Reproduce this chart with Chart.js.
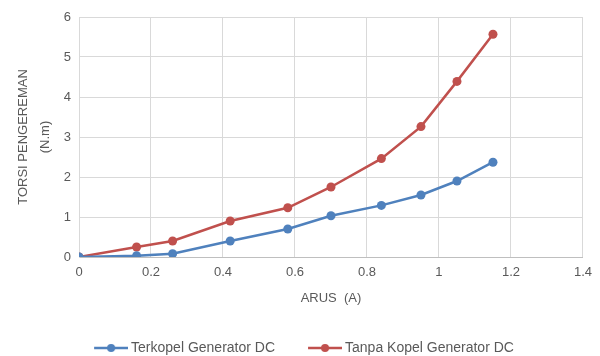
<!DOCTYPE html>
<html>
<head>
<meta charset="utf-8">
<script src="https://cdn.jsdelivr.net/npm/chart.js@4.4.1/dist/chart.umd.min.js"></script>
<style>
  html, body { margin: 0; padding: 0; background: #fff; }
  #wrap { width: 600px; height: 356px; }
</style>
</head>
<body>
<div id="wrap"><canvas id="c" width="600" height="356"></canvas></div>
<script>
// Arus (A) on the x axis, torsi pengereman (N.m) on the y axis
const arus = [0, 0.16, 0.26, 0.42, 0.58, 0.70, 0.84, 0.95, 1.05, 1.15];
const terkopel = [0, 0.03, 0.08, 0.40, 0.70, 1.03, 1.29, 1.55, 1.90, 2.37];
const tanpaKopel = [0, 0.25, 0.40, 0.90, 1.23, 1.75, 2.46, 3.26, 4.39, 5.57];
const seriesNames = ['Terkopel Generator DC', 'Tanpa Kopel Generator DC'];
const xTicks = [0, 0.2, 0.4, 0.6, 0.8, 1, 1.2, 1.4];
const yTicks = [0, 1, 2, 3, 4, 5, 6];
const xTitle = 'ARUS  (A)';
const yTitle = ['TORSI PENGEREMAN', '(N.m)'];

const BLUE = '#4F81BD';
const RED = '#C0504D';
const TEXT = '#595959';
const GRID = '#d9d9d9';
const FONT = "'Liberation Sans', Arial, sans-serif";

// legend marker: a short line with a dot, offset by a transparent lead-in
function makeMarker(color) {
  const c = document.createElement('canvas');
  c.width = 61; c.height = 10;
  const g = c.getContext('2d');
  g.strokeStyle = color;
  g.lineWidth = 2.5;
  g.beginPath();
  g.moveTo(27, 5); g.lineTo(61, 5);
  g.stroke();
  g.fillStyle = color;
  g.beginPath();
  g.arc(44, 5, 4, 0, Math.PI * 2);
  g.fill();
  return c;
}
const markers = [makeMarker(BLUE), makeMarker(RED)];

function toPoints(xs, ys) { return xs.map((x, i) => ({ x: x, y: ys[i] })); }

const ctx = document.getElementById('c').getContext('2d');
new Chart(ctx, {
  type: 'line',
  data: {
    datasets: [
      {
        label: seriesNames[0],
        data: toPoints(arus, terkopel),
        borderColor: BLUE, backgroundColor: BLUE,
        borderWidth: 2.5, pointRadius: 4.5, pointHoverRadius: 4.5,
        pointBorderWidth: 0, tension: 0
      },
      {
        label: seriesNames[1],
        data: toPoints(arus, tanpaKopel),
        borderColor: RED, backgroundColor: RED,
        borderWidth: 2.5, pointRadius: 4.5, pointHoverRadius: 4.5,
        pointBorderWidth: 0, tension: 0
      }
    ]
  },
  options: {
    responsive: false,
    animation: false,
    devicePixelRatio: 1,
    layout: { padding: { left: 0, right: 15, top: 17, bottom: -9 } },
    plugins: {
      tooltip: { enabled: false },
      legend: {
        position: 'bottom',
        labels: {
          color: TEXT,
          font: { family: FONT, size: 14 },
          usePointStyle: true,
          pointStyleWidth: 53,
          boxHeight: 10,
          padding: 10,
          generateLabels(chart) {
            return chart.data.datasets.map((ds, i) => ({
              text: ds.label,
              fontColor: TEXT,
              fillStyle: ds.borderColor,
              strokeStyle: ds.borderColor,
              lineWidth: 0,
              pointStyle: markers[i],
              hidden: false,
              datasetIndex: i
            }));
          }
        }
      }
    },
    scales: {
      x: {
        type: 'linear',
        min: xTicks[0], max: xTicks[xTicks.length - 1],
        afterBuildTicks(scale) { scale.ticks = xTicks.map(v => ({ value: v })); },
        afterFit(scale) { scale.height = 74; },
        grid: { color: GRID, lineWidth: 1, drawTicks: false },
        border: { color: '#bfbfbf', width: 1 },
        ticks: {
          color: TEXT, padding: 8,
          font: { family: FONT, size: 13 },
          callback: v => String(Number(v.toFixed(1)))
        },
        title: {
          display: true, text: xTitle, color: TEXT,
          font: { family: FONT, size: 13 },
          padding: { top: 0, bottom: 25 }
        }
      },
      y: {
        min: yTicks[0], max: yTicks[yTicks.length - 1],
        afterBuildTicks(scale) { scale.ticks = yTicks.map(v => ({ value: v })); },
        afterFit(scale) { scale.width = 79; },
        grid: { color: GRID, lineWidth: 1, drawTicks: false },
        border: { color: GRID, width: 1 },
        ticks: {
          color: TEXT, padding: 8,
          font: { family: FONT, size: 13 },
          callback: v => String(v)
        },
        title: {
          display: true, text: yTitle, color: TEXT,
          font: { family: FONT, size: 13, lineHeight: 1.7 },
          padding: { top: 12, bottom: 0 }
        }
      }
    }
  }
});
</script>
</body>
</html>
